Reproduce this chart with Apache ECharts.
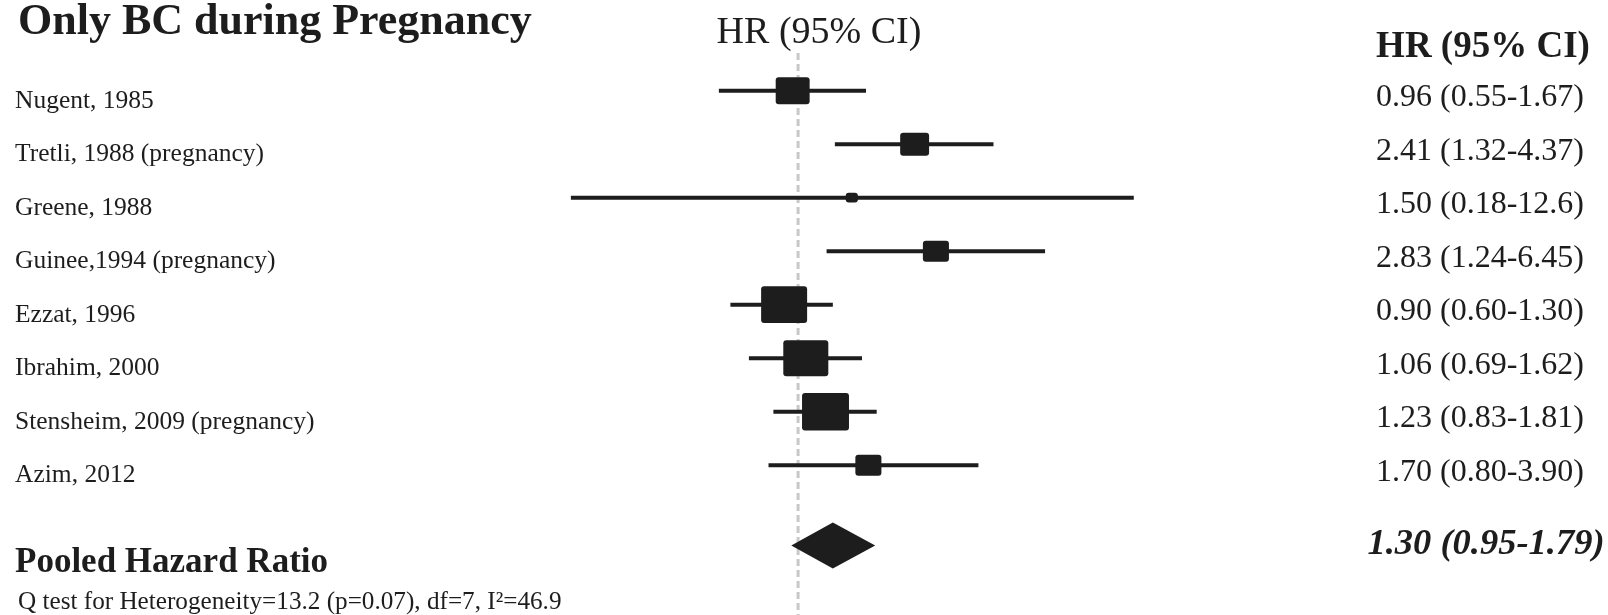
<!DOCTYPE html>
<html><head><meta charset="utf-8">
<script src="https://cdn.jsdelivr.net/npm/echarts@6/dist/echarts.min.js"></script>
<style>html,body{margin:0;padding:0;background:#fff}#c{width:1608px;height:615px}</style>
</head><body><div id="c"></div>
<script>
const studies = ['Nugent, 1985','Tretli, 1988 (pregnancy)','Greene, 1988','Guinee,1994 (pregnancy)','Ezzat, 1996','Ibrahim, 2000','Stensheim, 2009 (pregnancy)','Azim, 2012'];
const hr = [0.96, 2.41, 1.50, 2.83, 0.90, 1.06, 1.23, 1.70];
const lower = [0.55, 1.32, 0.18, 1.24, 0.60, 0.69, 0.83, 0.80];
const upper = [1.67, 4.37, 12.6, 6.45, 1.30, 1.62, 1.81, 3.90];
const weights = [11.7, 8.5, 1.5, 6.9, 21.5, 20.6, 22.4, 6.9];
const hrLabels = ['0.96 (0.55-1.67)','2.41 (1.32-4.37)','1.50 (0.18-12.6)','2.83 (1.24-6.45)','0.90 (0.60-1.30)','1.06 (0.69-1.62)','1.23 (0.83-1.81)','1.70 (0.80-3.90)'];
const pooledHR = [1.30];
const pooledLower = [0.95];
const pooledUpper = [1.79];
const pooledLabel = ['1.30 (0.95-1.79)'];
const pooledName = ['Pooled Hazard Ratio'];
const nullEffect = [1];
const heterogeneity = 'Q test for Heterogeneity=13.2 (p=0.07), df=7, I\u00B2=46.9';
const titleText = 'Only BC during Pregnancy';
const headerText = 'HR (95% CI)';

const SERIF = '"Liberation Serif","Times New Roman",serif';
const INK = '#1d1d1d';
const POOLED_ROW = 8.5;

const chart = echarts.init(document.getElementById('c'), null, {renderer: 'canvas'});

const studyData = studies.map((s, i) => [i, lower[i], upper[i], hr[i], weights[i]]);
const pooledData = pooledHR.map((v, i) => [POOLED_ROW, pooledLower[i], pooledUpper[i], v]);

function renderStudy(params, api) {
  const idx = params.dataIndex;
  const row = api.value(0);
  const lo = api.coord([api.value(1), row]);
  const hi = api.coord([api.value(2), row]);
  const c = api.coord([api.value(3), row]);
  const w = 9.92 * Math.sqrt(api.value(4));
  const h = w * 0.8;
  return {
    type: 'group',
    children: [
      {type: 'line', shape: {x1: lo[0], y1: lo[1], x2: hi[0], y2: hi[1]},
       style: {stroke: INK, lineWidth: 4}},
      {type: 'rect', shape: {x: c[0] - w / 2, y: c[1] - h / 2, width: w, height: h, r: Math.min(3, h / 2)},
       style: {fill: INK}},
      {type: 'text', x: 15, y: c[1] + 10.5,
       style: {text: studies[idx], font: '25.5px ' + SERIF, fill: INK, align: 'left', verticalAlign: 'middle'}},
      {type: 'text', x: 1480, y: c[1] + 7,
       style: {text: hrLabels[idx], font: '32px ' + SERIF, fill: INK, align: 'center', verticalAlign: 'middle'}}
    ]
  };
}

function renderPooled(params, api) {
  const idx = params.dataIndex;
  const row = api.value(0);
  const lo = api.coord([api.value(1), row]);
  const hi = api.coord([api.value(2), row]);
  const c = api.coord([api.value(3), row]);
  const half = 23;
  return {
    type: 'group',
    children: [
      {type: 'polygon', shape: {points: [[lo[0], lo[1]], [c[0], c[1] - half], [hi[0], hi[1]], [c[0], c[1] + half]]},
       style: {fill: INK}},
      {type: 'text', x: 1486, y: c[1] - 1,
       style: {text: pooledLabel[idx], font: 'italic bold 36.5px ' + SERIF, fill: INK, align: 'center', verticalAlign: 'middle'}},
      {type: 'text', x: 15, y: c[1] + 18,
       style: {text: pooledName[idx], font: 'bold 35px ' + SERIF, fill: INK, align: 'left', verticalAlign: 'middle'}}
    ]
  };
}

function renderNull(params, api) {
  const cs = params.coordSys;
  const x = api.coord([api.value(0), 0])[0];
  return {
    type: 'line',
    shape: {x1: x, y1: cs.y, x2: x, y2: cs.y + cs.height},
    style: {stroke: '#c8c8c8', lineWidth: 3, lineDash: [7, 4]}
  };
}

chart.setOption({
  animation: false,
  backgroundColor: '#ffffff',
  grid: {left: 493, right: 413, top: 53, bottom: 0},
  xAxis: {type: 'log', logBase: 10, min: 0.1, max: 20, show: false},
  yAxis: {type: 'value', inverse: true, min: -0.705, max: 9.8, show: false},
  graphic: [
    {type: 'text', x: 18, y: 23,
     style: {text: titleText, font: 'bold 44px ' + SERIF, fill: INK, align: 'left', verticalAlign: 'middle'}},
    {type: 'text', x: 819, y: 33,
     style: {text: headerText, font: '38px ' + SERIF, fill: INK, align: 'center', verticalAlign: 'middle'}},
    {type: 'text', x: 1483, y: 47,
     style: {text: headerText, font: 'bold 37px ' + SERIF, fill: INK, align: 'center', verticalAlign: 'middle'}},
    {type: 'text', x: 18, y: 602,
     style: {text: heterogeneity, font: '25.2px ' + SERIF, fill: INK, align: 'left', verticalAlign: 'middle'}}
  ],
  series: [
    {
      type: 'custom',
      name: 'reference',
      renderItem: renderNull,
      encode: {x: 0},
      data: nullEffect.map(v => [v]),
      z: 1,
      silent: true
    },
    {
      type: 'custom',
      name: 'studies',
      renderItem: renderStudy,
      encode: {x: [1, 2, 3], y: 0},
      data: studyData,
      z: 3
    },
    {
      type: 'custom',
      name: 'pooled',
      renderItem: renderPooled,
      encode: {x: [1, 2, 3], y: 0},
      data: pooledData,
      z: 3
    }
  ]
});
</script>
</body></html>
